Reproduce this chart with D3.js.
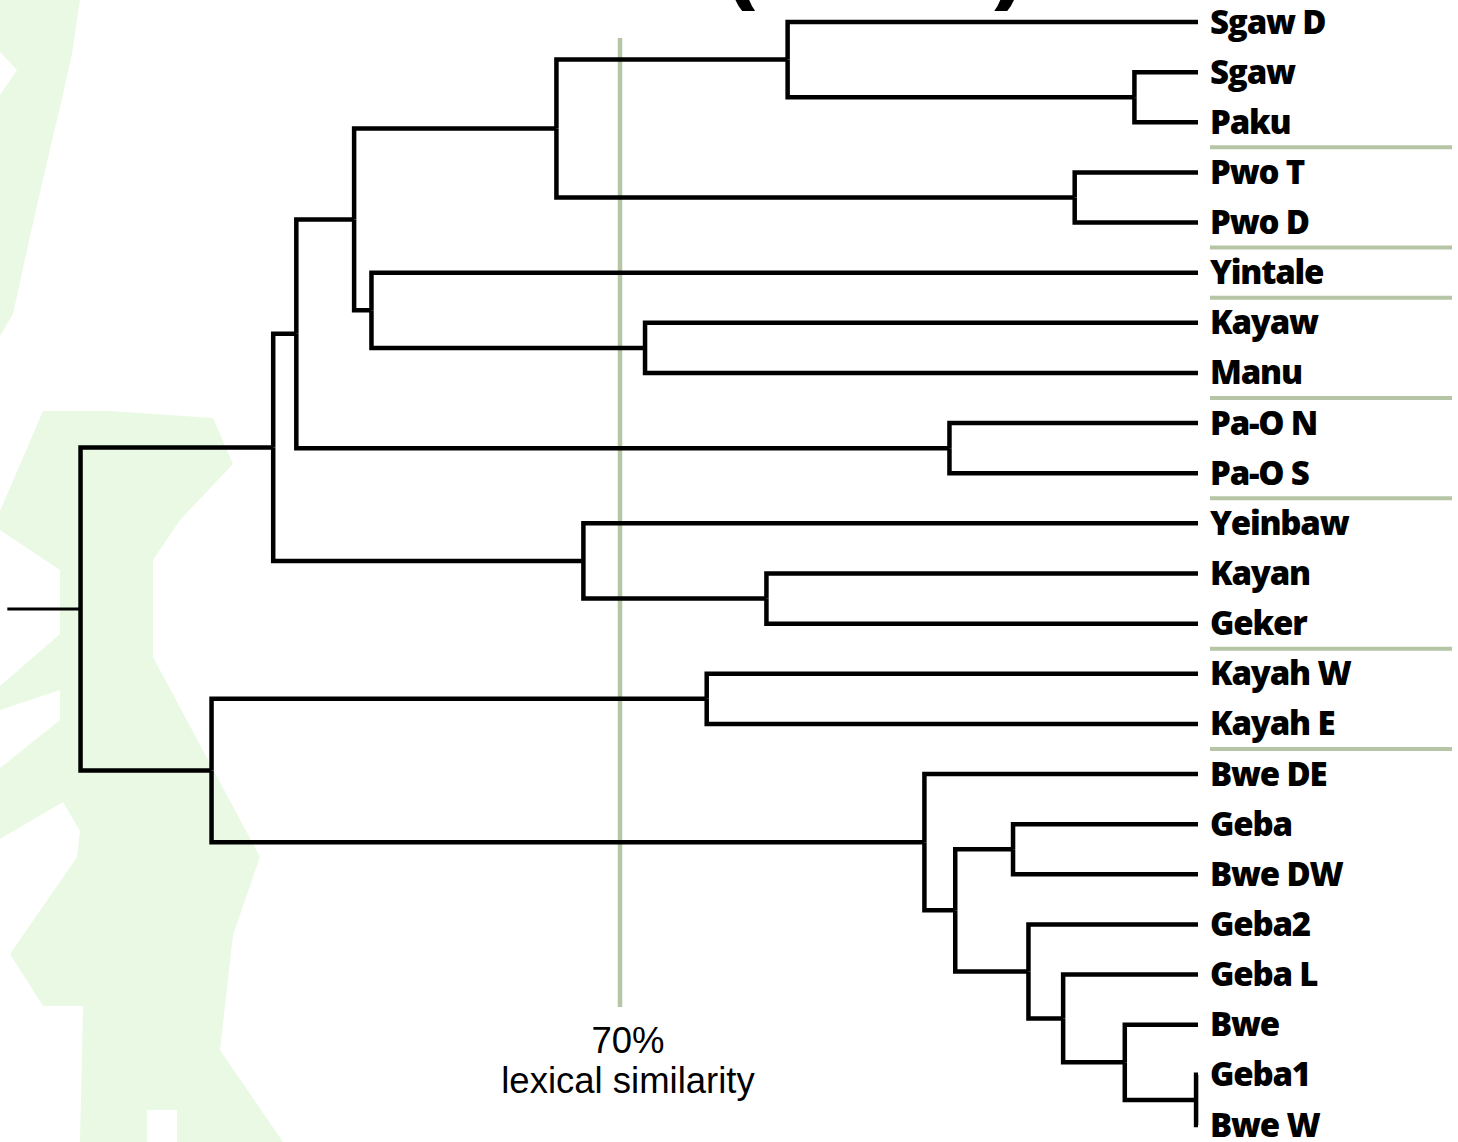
<!DOCTYPE html>
<html>
<head>
<meta charset="utf-8">
<script src="https://cdn.jsdelivr.net/npm/d3@7/dist/d3.min.js"></script>
<style>
  html, body { margin: 0; padding: 0; background: #fff; }
  svg { display: block; }
</style>
</head>
<body>
<div id="chart"></div>
<script>
const WIDTH = 1458;
const HEIGHT = 1142;

// leaves, top to bottom
const leafNames = [
  "Sgaw D", "Sgaw", "Paku", "Pwo T", "Pwo D", "Yintale", "Kayaw", "Manu",
  "Pa-O N", "Pa-O S", "Yeinbaw", "Kayan", "Geker", "Kayah W", "Kayah E",
  "Bwe DE", "Geba", "Bwe DW", "Geba2", "Geba L", "Bwe", "Geba1", "Bwe W"
];

// merges: [upper child, lower child, % lexical similarity]; "m3" = result of 3rd merge
const merges = [
  ["Sgaw", "Paku", 96.7],       // m1
  ["Sgaw D", "m1", 78.7],       // m2
  ["Pwo T", "Pwo D", 93.6],     // m3
  ["m2", "m3", 66.7],           // m4
  ["Kayaw", "Manu", 71.3],      // m5
  ["Yintale", "m5", 57.1],      // m6
  ["m4", "m6", 56.2],           // m7
  ["Pa-O N", "Pa-O S", 87.1],   // m8
  ["m7", "m8", 53.2],           // m9
  ["Kayan", "Geker", 77.6],     // m10
  ["Yeinbaw", "m10", 68.1],     // m11
  ["m9", "m11", 52.0],          // m12
  ["Kayah W", "Kayah E", 74.5], // m13
  ["Geba1", "Bwe W", 99.9],     // m14
  ["Bwe", "m14", 96.2],         // m15
  ["Geba L", "m15", 93.0],      // m16
  ["Geba2", "m16", 91.2],       // m17
  ["Geba", "Bwe DW", 90.4],     // m18
  ["m18", "m17", 87.4],         // m19
  ["Bwe DE", "m19", 85.8],      // m20
  ["m13", "m20", 48.8],         // m21
  ["m12", "m21", 42.0]          // m22 (root)
];

const rootTail = 38.2;          // where the root stub starts
const thresholdValue = 70;
const thresholdLabel = ["70%", "lexical similarity"];

// leaves after which a group separator is drawn
const groupEnds = ["Paku", "Pwo D", "Yintale", "Manu", "Pa-O S", "Geker", "Kayah E"];

// faint map silhouette behind the tree
const backdrop = [
  [[0,0],[80,0],[72,54],[60,107],[43,179],[27,250],[13,314],[0,336],[0,95],[17,70],[0,52]],
  [[43,411],[110,411],[213,418],[233,464],[180,520],[153,560],[153,657],[260,857],[233,935],
   [220,1050],[283,1142],[177,1142],[177,1110],[147,1110],[147,1142],[80,1142],[83,1006],
   [43,1006],[10,954],[77,857],[80,831],[63,802],[0,839],[0,768],[60,720],[60,690],[0,710],
   [0,686],[60,634],[60,570],[0,530],[0,511]]
];

class Dendrogram {
  svg = null;
  root = null;

  select(id) {
    this.svg = d3.select(id).append("svg")
      .attr("width", WIDTH)
      .attr("height", HEIGHT);
    return this;
  }

  data() {
    const nodes = {};
    leafNames.forEach((name) => { nodes[name] = { name, sim: 100 }; });
    merges.forEach((m, i) => {
      nodes["m" + (i + 1)] = { name: "m" + (i + 1), sim: m[2], children: [nodes[m[0]], nodes[m[1]]] };
    });
    this.root = d3.hierarchy(nodes["m" + merges.length]);
    return this;
  }

  draw() {
    const x = d3.scaleLinear().domain([thresholdValue, 100]).range([620, 1198]);
    const y = d3.scalePoint().domain(leafNames).range([22, 1125]);

    // leaves on the point scale, internal nodes midway between their children
    this.root.eachAfter((d) => {
      d.x = x(d.data.sim);
      d.y = d.children ? d3.mean(d.children, (c) => c.y) : y(d.data.name);
    });

    this.svg.append("g")
      .selectAll("path")
      .data(backdrop)
      .join("path")
      .attr("d", (d) => d3.line()(d) + "Z")
      .attr("fill", "#eaf9e4");

    // title remnant cut off at the top
    this.svg.append("g")
      .selectAll("text")
      .data([["(", 728], [")", 992]])
      .join("text")
      .attr("x", (d) => d[1])
      .attr("y", -2)
      .attr("font-family", "'Open Sans', sans-serif")
      .attr("font-weight", 800)
      .attr("font-size", 82)
      .text((d) => d[0]);

    // 70% threshold
    this.svg.append("line")
      .attr("x1", x(thresholdValue)).attr("x2", x(thresholdValue))
      .attr("y1", 38).attr("y2", 1007)
      .attr("stroke", "#b5c5a5")
      .attr("stroke-width", 4.5);

    this.svg.append("g")
      .selectAll("text")
      .data(thresholdLabel)
      .join("text")
      .attr("x", x(thresholdValue) + 8)
      .attr("y", (d, i) => 1053 + i * 40)
      .attr("text-anchor", "middle")
      .attr("font-family", "'Liberation Sans', Arial, sans-serif")
      .attr("font-size", 36.5)
      .text((d) => d);

    // group separators
    const step = y.step();
    this.svg.append("g")
      .selectAll("line")
      .data(groupEnds)
      .join("line")
      .attr("x1", 1210).attr("x2", 1452)
      .attr("y1", (d) => y(d) + step / 2)
      .attr("y2", (d) => y(d) + step / 2)
      .attr("stroke", "#b5c5a5")
      .attr("stroke-width", 4);

    // branches
    this.svg.append("g")
      .attr("fill", "none")
      .attr("stroke", "#000")
      .attr("stroke-width", 4.5)
      .attr("stroke-linejoin", "miter")
      .selectAll("path")
      .data(this.root.descendants().filter((d) => d.parent))
      .join("path")
      .attr("d", (d) => `M${d.parent.x},${d.parent.y}V${d.y}H${d.x}`);

    this.svg.append("path")
      .attr("d", `M${x(rootTail)},${this.root.y}H${this.root.x}`)
      .attr("stroke", "#000")
      .attr("stroke-width", 3);

    // leaf labels
    this.svg.append("g")
      .selectAll("text")
      .data(this.root.leaves())
      .join("text")
      .attr("x", 1210)
      .attr("y", (d) => d.y)
      .attr("dy", 11.5)
      .attr("font-family", "'Open Sans', sans-serif")
      .attr("font-weight", 800)
      .attr("font-size", 33)
      .attr("letter-spacing", -1.2)
      .text((d) => d.data.name);

    return this;
  }
}

new Dendrogram().select("#chart").data().draw();
</script>
</body>
</html>
